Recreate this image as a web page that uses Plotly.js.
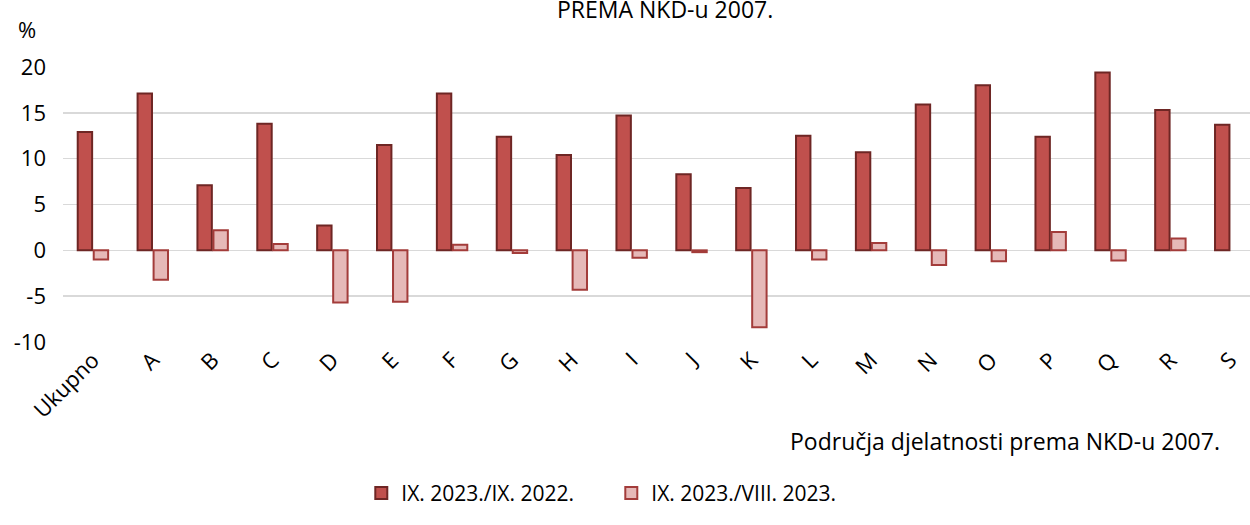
<!DOCTYPE html>
<html>
<head>
<meta charset="utf-8">
<script src="https://cdn.plot.ly/plotly-3.0.1.min.js"></script>
<style>html,body{margin:0;padding:0;background:#fff;}#chart{width:1250px;height:525px;}</style>
</head>
<body>
<div id="chart"></div>
<script>
const categories = ["Ukupno","A","B","C","D","E","F","G","H","I","J","K","L","M","N","O","P","Q","R","S"];
const seriesNames = ["IX. 2023./IX. 2022.", "IX. 2023./VIII. 2023."];
const yoy = [12.9,17.1,7.1,13.8,2.7,11.5,17.1,12.4,10.4,14.7,8.3,6.8,12.5,10.7,15.9,18.0,12.4,19.4,15.3,13.7];
const mom = [-1.0,-3.2,2.2,0.7,-5.7,-5.6,0.6,-0.3,-4.3,-0.8,-0.2,-8.4,-1.0,0.8,-1.6,-1.2,2.0,-1.1,1.3,null];
const yTicks = [-10,-5,0,5,10,15,20];
const titleText = "PREMA NKD-u 2007.";
const unitText = "%";
const xTitleText = "Područja djelatnosti prema NKD-u 2007.";

const FONT = "'Open Sans', 'Noto Sans', sans-serif";

const traces = [
  {type:"bar", x:categories, y:yoy, name:seriesNames[0],
   marker:{color:"#C0504D", line:{color:"#6E2624", width:2}}},
  {type:"bar", x:categories, y:mom, name:seriesNames[1],
   marker:{color:"#E6B9B8", line:{color:"#A33C3A", width:2}}}
];

const layout = {
  width:1250, height:525,
  margin:{l:63, r:0, t:67, b:183},
  paper_bgcolor:"#fff", plot_bgcolor:"#fff",
  font:{family:FONT, size:22, color:"#000"},
  barmode:"group", bargap:0.465, bargroupgap:0.1,
  showlegend:true,
  legend:{orientation:"h", x:0.2513, y:-0.55, xanchor:"left", yanchor:"middle",
          font:{size:21, family:FONT}, entrywidth:205, itemwidth:30, traceorder:"normal"},
  xaxis:{type:"category", range:[-0.5, 19.33], tickangle:-45, showgrid:false,
         showline:false, zeroline:false, ticks:"", tickfont:{size:22, family:FONT}},
  yaxis:{range:[-10,20], tickvals:yTicks, ticktext:yTicks.map(String), showgrid:true,
         gridcolor:"#D9D9D9", gridwidth:1.5, zeroline:true, zerolinecolor:"#D9D9D9",
         zerolinewidth:1.5, showline:false, ticks:"", tickfont:{size:22, family:FONT},
         ticklabelstandoff:16},
  annotations:[
    {text:titleText, xref:"paper", yref:"paper", x:0.507, y:1.211, xanchor:"center", yanchor:"middle",
     showarrow:false, font:{size:23, family:FONT}},
    {text:unitText, xref:"paper", yref:"paper", x:-0.0395, y:1.14, xanchor:"left", yanchor:"middle",
     showarrow:false, font:{size:22, family:FONT}},
    {text:xTitleText, xref:"paper", yref:"paper", x:0.976, y:-0.36, xanchor:"right", yanchor:"middle",
     showarrow:false, font:{size:23, family:FONT}}
  ]
};

Plotly.newPlot("chart", traces, layout, {displayModeBar:false, staticPlot:true});
</script>
</body>
</html>
